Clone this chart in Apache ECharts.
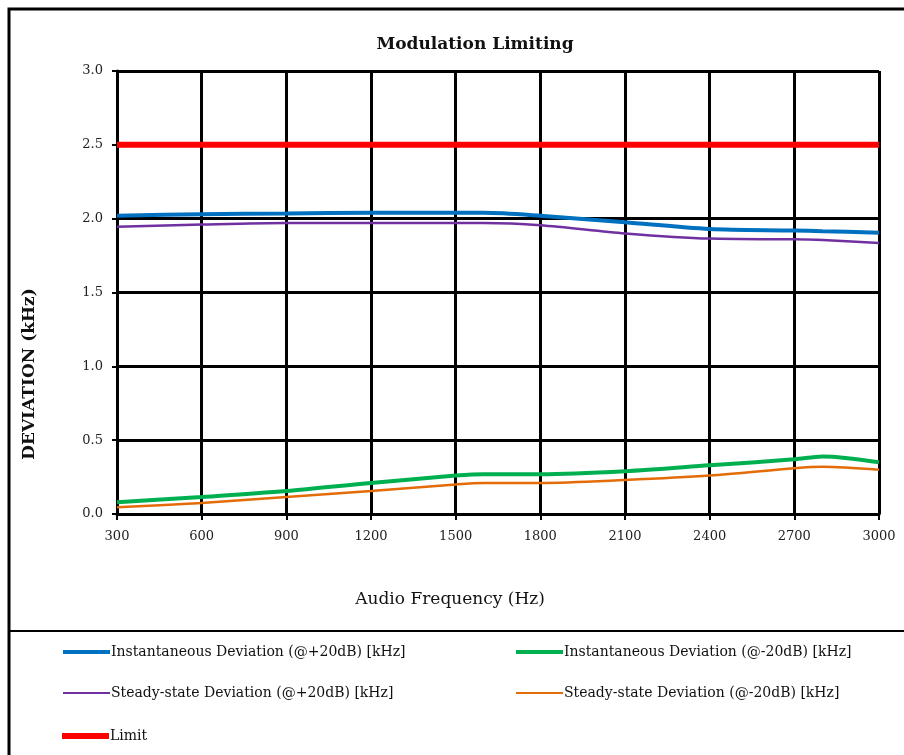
<!DOCTYPE html>
<html>
<head>
<meta charset="utf-8">
<script src="https://cdn.jsdelivr.net/npm/echarts@6/dist/echarts.min.js"></script>
<style>html,body{margin:0;padding:0;background:#fff;}#c{width:904px;height:755px;}</style>
</head>
<body>
<div id="c"></div>
<script>
const freq = [300, 600, 900, 1200, 1500, 1600, 1800, 2100, 2400, 2700, 2800, 3000];
const instPlus = [2.02, 2.03, 2.035, 2.04, 2.04, 2.04, 2.02, 1.975, 1.93, 1.92, 1.915, 1.905];
const instMinus = [0.08, 0.115, 0.155, 0.21, 0.26, 0.27, 0.27, 0.29, 0.33, 0.37, 0.39, 0.35];
const steadyPlus = [1.945, 1.96, 1.97, 1.97, 1.97, 1.97, 1.955, 1.90, 1.865, 1.86, 1.855, 1.835];
const steadyMinus = [0.045, 0.075, 0.115, 0.155, 0.20, 0.21, 0.21, 0.23, 0.26, 0.31, 0.32, 0.30];
const limitFreq = [300, 3000];
const limitVal = [2.5, 2.5];
const names = [
  'Instantaneous Deviation (@+20dB) [kHz]',
  'Instantaneous Deviation (@-20dB) [kHz]',
  'Steady-state Deviation (@+20dB) [kHz]',
  'Steady-state Deviation (@-20dB) [kHz]',
  'Limit'
];
const xTicks = [300, 600, 900, 1200, 1500, 1800, 2100, 2400, 2700, 3000];
const yTitle = 'DEVIATION (kHz)';
const xTitle = 'Audio Frequency (Hz)';

const serif = '"DejaVu Serif", "Liberation Serif", serif';
const pair = (xs, ys) => xs.map((x, i) => [x, ys[i]]);

const chart = echarts.init(document.getElementById('c'));
function leg(name, left, top, h) {
  return {
    data: [name], left: left, top: top, orient: 'horizontal', padding: 0,
    icon: 'rect', itemWidth: 47, itemHeight: h, itemGap: 0,
    textStyle: {fontFamily: serif, fontSize: 14, color: '#111', padding: [0, 0, 0, -4]},
    selectedMode: false
  };
}
chart.setOption({
  animation: false,
  backgroundColor: '#fff',
  title: {
    text: 'Modulation Limiting', left: 475, top: 36, textAlign: 'center', padding: 0,
    textStyle: {fontFamily: serif, fontSize: 17, fontWeight: 'bold', color: '#111'}
  },
  grid: {left: 117, right: 25, top: 71, bottom: 241},
  legend: [
    leg(names[0], 63, 645, 4),
    leg(names[1], 516, 645, 4),
    leg(names[2], 63, 686, 2),
    leg(names[3], 516, 686, 2),
    leg(names[4], 62, 729, 6)
  ],
  xAxis: {
    type: 'value', min: 300, max: 3000, interval: 300,
    axisLine: {show: true, lineStyle: {color: '#000', width: 3}},
    axisTick: {show: true, length: 6, lineStyle: {color: '#000', width: 2}},
    axisLabel: {fontFamily: serif, fontSize: 13, color: '#222', margin: 16,
      formatter: v => xTicks.includes(v) ? String(v) : ''},
    splitLine: {show: true, lineStyle: {color: '#000', width: 3}}
  },
  yAxis: {
    type: 'value', min: 0, max: 3, interval: 0.5,
    axisLine: {show: true, lineStyle: {color: '#000', width: 3}},
    axisTick: {show: true, length: 5, lineStyle: {color: '#000', width: 2}},
    axisLabel: {fontFamily: serif, fontSize: 13, color: '#222', margin: 14,
      formatter: v => v.toFixed(1)},
    splitLine: {show: true, lineStyle: {color: '#000', width: 3}}
  },
  series: [
    {name: names[0], type: 'line', data: pair(freq, instPlus), smooth: 0.3, symbol: 'none',
      lineStyle: {color: '#0070C0', width: 4}, itemStyle: {color: '#0070C0'}},
    {name: names[1], type: 'line', data: pair(freq, instMinus), smooth: 0.3, symbol: 'none',
      lineStyle: {color: '#00B050', width: 4}, itemStyle: {color: '#00B050'}},
    {name: names[2], type: 'line', data: pair(freq, steadyPlus), smooth: 0.3, symbol: 'none',
      lineStyle: {color: '#7030A0', width: 2.5}, itemStyle: {color: '#7030A0'}},
    {name: names[3], type: 'line', data: pair(freq, steadyMinus), smooth: 0.3, symbol: 'none',
      lineStyle: {color: '#E36C09', width: 2.5}, itemStyle: {color: '#E36C09'}},
    {name: names[4], type: 'line', data: pair(limitFreq, limitVal), symbol: 'none',
      lineStyle: {color: '#FF0000', width: 6}, itemStyle: {color: '#FF0000'}}
  ],
  graphic: [
    {type: 'rect', shape: {x: 9, y: 9, width: 910, height: 760}, style: {fill: 'none', stroke: '#000', lineWidth: 3}, silent: true},
    {type: 'line', shape: {x1: 9, y1: 631, x2: 904, y2: 631}, style: {stroke: '#000', lineWidth: 2}, silent: true},
    {type: 'text', x: 30, y: 374, rotation: Math.PI / 2,
      style: {text: yTitle, fontFamily: serif, fontSize: 17, fontWeight: 'bold', fill: '#111',
        align: 'center', verticalAlign: 'middle'}, silent: true},
    {type: 'text', x: 450, y: 600,
      style: {text: xTitle, fontFamily: serif, fontSize: 17, fill: '#111',
        align: 'center', verticalAlign: 'middle'}, silent: true}
  ]
});
</script>
</body>
</html>
